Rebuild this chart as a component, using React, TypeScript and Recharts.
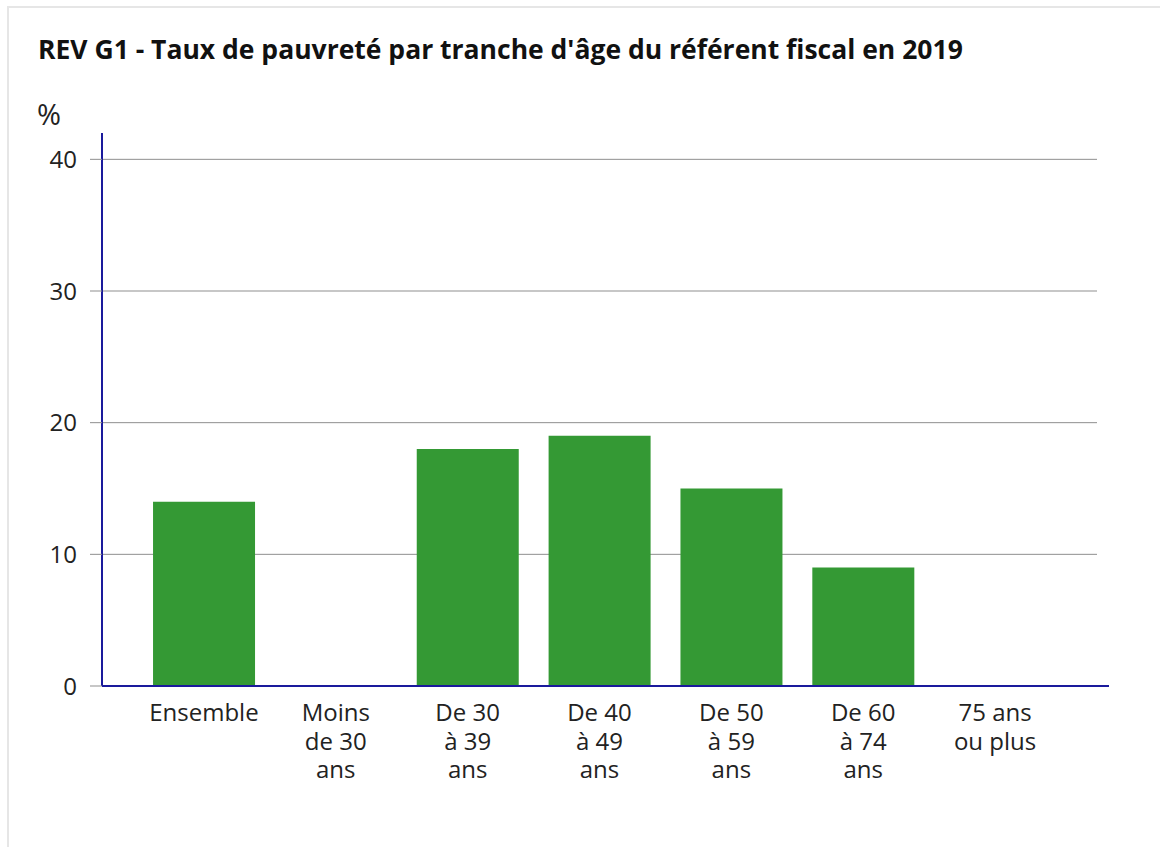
import { BarChart, Bar, XAxis, YAxis, CartesianGrid } from 'recharts';

const categories = ['Ensemble', 'Moins de 30 ans', 'De 30 à 39 ans', 'De 40 à 49 ans', 'De 50 à 59 ans', 'De 60 à 74 ans', '75 ans ou plus'];
const tickLines = [
  ['Ensemble'],
  ['Moins', 'de 30', 'ans'],
  ['De 30', 'à 39', 'ans'],
  ['De 40', 'à 49', 'ans'],
  ['De 50', 'à 59', 'ans'],
  ['De 60', 'à 74', 'ans'],
  ['75 ans', 'ou plus'],
];
const rates: (number | null)[] = [14, null, 18, 19, 15, 9, null];
const yTicks = [0, 10, 20, 30, 40];

const data = categories.map((c, i) => ({ name: c, value: rates[i] }));

const FONT = '"Open Sans", sans-serif';
const AXIS_BLUE = '#1a1a9c';
const GRID = '#8f8f8f';
const GREEN = '#349934';

const W = 1160;
const H = 847;
const margin = { top: 133, right: 63, left: 0, bottom: 61 };
const Y_AXIS_W = 102;
const X_AXIS_H = 100;

const CategoryTick = ({ x, y, index }: any) => {
  const lines = tickLines[index] ?? [];
  return (
    <text x={x} y={y + 35} textAnchor="middle" fontSize={24} fill="#222" fontFamily={FONT}>
      {lines.map((l, i) => (
        <tspan key={i} x={x} dy={i === 0 ? 0 : 28.5}>
          {l}
        </tspan>
      ))}
    </text>
  );
};

export default function App() {
  const plotRight = W - margin.right;
  const plotBottom = H - margin.bottom - X_AXIS_H;
  return (
    <div
      style={{
        position: 'fixed',
        left: 0,
        top: 0,
        width: W,
        height: H,
        overflow: 'hidden',
        background: '#fff',
        fontFamily: FONT,
      }}
    >
      <div
        style={{
          position: 'absolute',
          left: 7,
          top: 6,
          width: 1200,
          height: 900,
          border: '2px solid #e6e6e6',
        }}
      />
      <div
        style={{
          position: 'absolute',
          left: 38,
          top: 36,
          fontSize: 26.5,
          lineHeight: 1,
          fontWeight: 700,
          color: '#111',
          whiteSpace: 'nowrap',
        }}
      >
        REV G1 - Taux de pauvreté par tranche d'âge du référent fiscal en 2019
      </div>
      <div
        style={{
          position: 'absolute',
          left: 37,
          top: 99,
          fontSize: 29,
          lineHeight: 1,
          color: '#222',
        }}
      >
        %
      </div>
      <div style={{ position: 'absolute', left: 0, top: 0 }}>
        <BarChart width={W} height={H} data={data} margin={margin} barCategoryGap="11.4%">
          <CartesianGrid vertical={false} horizontalValues={yTicks} stroke={GRID} strokeWidth={1} />
          <XAxis
            dataKey="name"
            height={X_AXIS_H}
            padding={{ left: 36, right: 36 }}
            tickLine={false}
            tickSize={0}
            tickMargin={0}
            axisLine={{ stroke: AXIS_BLUE, strokeWidth: 2 }}
            tick={<CategoryTick />}
            interval={0}
          />
          <YAxis
            width={Y_AXIS_W}
            domain={[0, 42]}
            ticks={yTicks}
            allowDataOverflow
            tickSize={12}
            tickMargin={13}
            tickLine={{ stroke: GRID, strokeWidth: 1 }}
            axisLine={{ stroke: AXIS_BLUE, strokeWidth: 2 }}
            tick={{ fontSize: 24, fill: '#222', fontFamily: FONT }}
          />
          <Bar dataKey="value" fill={GREEN} isAnimationActive={false} />
        </BarChart>
      </div>
      {/* x-axis line runs a bit past the plot area on the right */}
      <div
        style={{
          position: 'absolute',
          left: plotRight,
          top: plotBottom - 1,
          width: 12,
          height: 2,
          background: AXIS_BLUE,
        }}
      />
    </div>
  );
}
